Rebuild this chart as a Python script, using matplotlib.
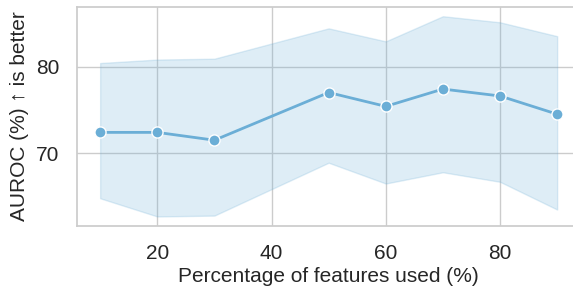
import matplotlib
matplotlib.use("Agg")
import matplotlib.pyplot as plt
import seaborn as sns

# percentage of features kept vs. AUROC (mean and spread)
pct_features = [10, 20, 30, 50, 60, 70, 80, 90]
auroc_mean = [72.4, 72.4, 71.5, 77.0, 75.4, 77.4, 76.6, 74.5]
auroc_upper = [80.4, 80.8, 80.9, 84.4, 82.9, 85.8, 85.1, 83.5]
auroc_lower = [64.8, 62.7, 62.8, 68.9, 66.5, 67.8, 66.7, 63.5]
x_ticks = [20, 40, 60, 80]
y_ticks = [70, 80]

sns.set_theme(style="whitegrid")
plt.rcParams['font.family'] = ['Liberation Sans', 'DejaVu Sans']

color = "#6baed6"

fig = plt.figure(figsize=(5.73, 2.93), dpi=100)
ax = fig.add_axes([77.3 / 573, 1 - 226 / 293, (580 - 77.3) / 573, (226 - 6.7) / 293])

ax.fill_between(pct_features, auroc_lower, auroc_upper, color=color, alpha=0.22, linewidth=1)
ax.plot(pct_features, auroc_mean, color=color, linewidth=2, marker='o',
        markersize=8, markeredgecolor='white', markeredgewidth=1)

ax.set_xlim(6, 94)
ax.set_ylim(61.6, 86.9)
ax.set_xticks(x_ticks)
ax.set_yticks(y_ticks)
ax.tick_params(labelsize=15, pad=7, labelcolor='#262626')
ax.set_xlabel("Percentage of features used (%)", fontsize=15, labelpad=3, color='#262626')
ax.set_ylabel("AUROC (%) \u2191 is better", fontsize=15, labelpad=5, color='#262626')

fig.savefig("out.png", dpi=100)
